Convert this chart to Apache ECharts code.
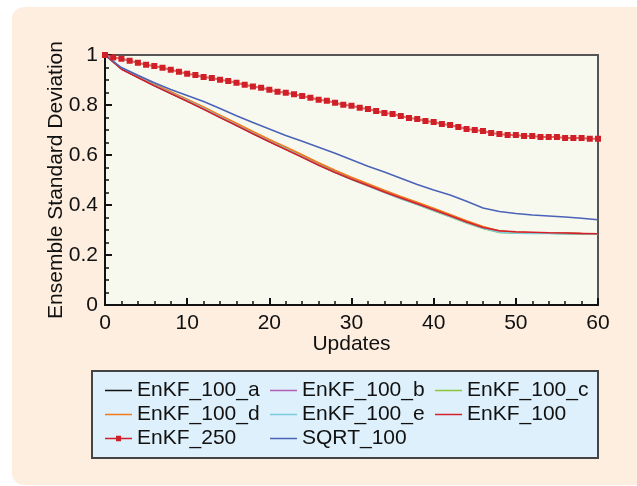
<!DOCTYPE html>
<html>
<head>
<meta charset="utf-8">
<script src="https://cdn.jsdelivr.net/npm/echarts@6/dist/echarts.min.js"></script>
<style>
  html, body { margin: 0; padding: 0; background: #ffffff; }
  #chart { width: 637px; height: 486px; }
</style>
</head>
<body>
<div id="chart"></div>
<script>
// x positions (updates)
var updatesAll = [0, 1, 2, 3, 4, 5, 6, 7, 8, 9, 10, 11, 12, 13, 14, 15, 16, 17, 18, 19, 20,
  21, 22, 23, 24, 25, 26, 27, 28, 29, 30, 31, 32, 33, 34, 35, 36, 37, 38, 39, 40,
  41, 42, 43, 44, 45, 46, 47, 48, 49, 50, 51, 52, 53, 54, 55, 56, 57, 58, 59, 60];
var updatesEven = [0, 2, 4, 6, 8, 10, 12, 14, 16, 18, 20, 22, 24, 26, 28, 30,
  32, 34, 36, 38, 40, 42, 44, 46, 48, 50, 52, 54, 56, 58, 60];

// ensemble std dev per series
var enkf100a = [1.0, 0.945, 0.911, 0.878, 0.847, 0.816, 0.785, 0.752, 0.719, 0.686, 0.654, 0.624, 0.593, 0.561, 0.531, 0.504,
  0.478, 0.452, 0.427, 0.404, 0.379, 0.355, 0.331, 0.308, 0.293, 0.289, 0.288, 0.287, 0.286, 0.285, 0.284];
var enkf100b = [1.0, 0.946, 0.913, 0.881, 0.850, 0.820, 0.789, 0.756, 0.724, 0.690, 0.659, 0.629, 0.597, 0.566, 0.536, 0.508,
  0.482, 0.457, 0.432, 0.408, 0.384, 0.360, 0.335, 0.312, 0.295, 0.290, 0.289, 0.288, 0.287, 0.286, 0.285];
var enkf100c = [1.0, 0.945, 0.912, 0.880, 0.849, 0.819, 0.788, 0.755, 0.722, 0.690, 0.657, 0.627, 0.595, 0.562, 0.531, 0.503,
  0.477, 0.451, 0.425, 0.402, 0.377, 0.353, 0.328, 0.306, 0.290, 0.287, 0.287, 0.287, 0.286, 0.285, 0.284];
var enkf100d = [1.0, 0.947, 0.915, 0.883, 0.853, 0.823, 0.792, 0.759, 0.727, 0.694, 0.662, 0.632, 0.601, 0.569, 0.539, 0.511,
  0.485, 0.459, 0.434, 0.411, 0.387, 0.362, 0.337, 0.314, 0.296, 0.291, 0.289, 0.288, 0.287, 0.286, 0.285];
var enkf100e = [1.0, 0.945, 0.912, 0.879, 0.848, 0.818, 0.786, 0.753, 0.720, 0.687, 0.655, 0.625, 0.593, 0.560, 0.530, 0.502,
  0.476, 0.450, 0.425, 0.402, 0.378, 0.354, 0.329, 0.307, 0.291, 0.287, 0.286, 0.286, 0.285, 0.285, 0.284];
var enkf100 = [1.0, 0.943, 0.910, 0.877, 0.846, 0.815, 0.783, 0.750, 0.718, 0.685, 0.653, 0.622, 0.591, 0.559, 0.530, 0.503,
  0.478, 0.452, 0.428, 0.405, 0.381, 0.357, 0.332, 0.310, 0.297, 0.293, 0.291, 0.289, 0.288, 0.286, 0.285];
var sqrt100 = [1.0, 0.950, 0.919, 0.889, 0.862, 0.838, 0.814, 0.786, 0.757, 0.730, 0.704, 0.678, 0.655, 0.631, 0.607, 0.581,
  0.555, 0.532, 0.507, 0.482, 0.460, 0.440, 0.415, 0.388, 0.374, 0.366, 0.360, 0.356, 0.352, 0.347, 0.341];
var enkf250 = [1.0, 0.99, 0.985, 0.977, 0.969, 0.961, 0.956, 0.949, 0.941, 0.933, 0.925,
  0.92, 0.912, 0.908, 0.901, 0.896, 0.889, 0.881, 0.874, 0.869, 0.861,
  0.853, 0.849, 0.843, 0.836, 0.829, 0.821, 0.817, 0.809, 0.801, 0.797,
  0.789, 0.784, 0.776, 0.768, 0.764, 0.756, 0.748, 0.744, 0.736, 0.732,
  0.724, 0.72, 0.712, 0.704, 0.70, 0.696, 0.688, 0.684, 0.68, 0.68,
  0.676, 0.676, 0.672, 0.672, 0.672, 0.668, 0.668, 0.668, 0.665, 0.665];

var seriesNames = ["EnKF_100_a", "EnKF_100_b", "EnKF_100_c", "EnKF_100_d", "EnKF_100_e", "EnKF_100", "EnKF_250", "SQRT_100"];

// legend glyphs: thin line, and line with a small square for the marked series
var lineIcon = "path://M0,6 H27 V7.5 H0 Z";
var markIcon = "path://M0,6 H27 V7.5 H0 Z M11,4 H16 V9.5 H11 Z";

function pairs(xs, ys) {
  return xs.map(function (x, i) { return [x, ys[i]]; });
}

var font = "Liberation Sans, Arial, sans-serif";
var chart = echarts.init(document.getElementById("chart"));

function plainLine(name, xs, ys, color, width) {
  return {
    name: name,
    type: "line",
    data: pairs(xs, ys),
    symbol: "none",
    smooth: false,
    animation: false,
    lineStyle: { color: color, width: width },
    itemStyle: { color: color },
  };
}

chart.setOption({
  backgroundColor: "#ffffff",
  textStyle: { fontFamily: font },
  graphic: [
    {
      type: "rect",
      z: -10,
      silent: true,
      shape: { x: 12, y: 7, width: 700, height: 478, r: 12 },
      style: { fill: "#fdeee0" },
    },
  ],
  grid: {
    left: 105,
    right: 39,
    top: 55,
    bottom: 181,
    show: true,
    backgroundColor: "#f8f9ee",
    borderColor: "#555555",
    borderWidth: 2,
  },
  legend: {
    data: seriesNames.map(function (n) {
      return { name: n, icon: n === "EnKF_250" ? markIcon : lineIcon };
    }),
    left: 92,
    top: 371,
    width: 505,
    orient: "horizontal",
    itemWidth: 27,
    itemHeight: 14,
    itemGap: 3,
    padding: [9, 1, 9, 13],
    backgroundColor: "#ddf0fb",
    borderColor: "#444444",
    borderWidth: 2,
    borderRadius: 0,
    selectedMode: false,
    textStyle: {
      fontFamily: font,
      fontSize: 21,
      color: "#111111",
      width: 130,
      lineHeight: 21,
    },
  },
  xAxis: {
    type: "value",
    min: 0,
    max: 60,
    interval: 10,
    name: "Updates",
    nameLocation: "middle",
    nameGap: 29,
    nameMoveOverlap: false,
    nameTextStyle: { fontSize: 21, color: "#111111", fontFamily: font },
    axisLine: { show: true, lineStyle: { color: "#111111", width: 2 } },
    axisTick: { show: true, inside: true, length: 7, lineStyle: { color: "#111111", width: 2 } },
    minorTick: { show: true, splitNumber: 5, length: 4, lineStyle: { color: "#111111", width: 1.5 } },
    axisLabel: { fontSize: 21, color: "#111111", margin: 8, fontFamily: font },
    splitLine: { show: false },
  },
  yAxis: {
    type: "value",
    min: 0,
    max: 1,
    interval: 0.2,
    name: "Ensemble Standard Deviation",
    nameLocation: "middle",
    nameGap: 38,
    nameMoveOverlap: false,
    nameTextStyle: { fontSize: 21, color: "#111111", fontFamily: font },
    axisLine: { show: true, lineStyle: { color: "#111111", width: 2 } },
    axisTick: { show: true, inside: true, length: 7, lineStyle: { color: "#111111", width: 2 } },
    minorTick: { show: true, splitNumber: 4, length: 4, lineStyle: { color: "#111111", width: 1.5 } },
    axisLabel: { fontSize: 21, color: "#111111", margin: 7, fontFamily: font },
    splitLine: { show: false },
  },
  series: [
    plainLine("EnKF_100_a", updatesEven, enkf100a, "#111111", 1.5),
    plainLine("EnKF_100_b", updatesEven, enkf100b, "#b160b6", 1.5),
    plainLine("EnKF_100_c", updatesEven, enkf100c, "#8cc43c", 1.5),
    plainLine("EnKF_100_d", updatesEven, enkf100d, "#f07a1c", 1.5),
    plainLine("EnKF_100_e", updatesEven, enkf100e, "#7dcde0", 1.5),
    plainLine("EnKF_100", updatesEven, enkf100, "#d4202a", 1.5),
    {
      name: "EnKF_250",
      type: "line",
      data: pairs(updatesAll, enkf250),
      symbol: "rect",
      symbolSize: 6,
      showAllSymbol: true,
      animation: false,
      lineStyle: { color: "#e06868", width: 2 },
      itemStyle: { color: "#d01f27" },
    },
    plainLine("SQRT_100", updatesEven, sqrt100, "#4a62b8", 1.5),
  ],
});
</script>
</body>
</html>
